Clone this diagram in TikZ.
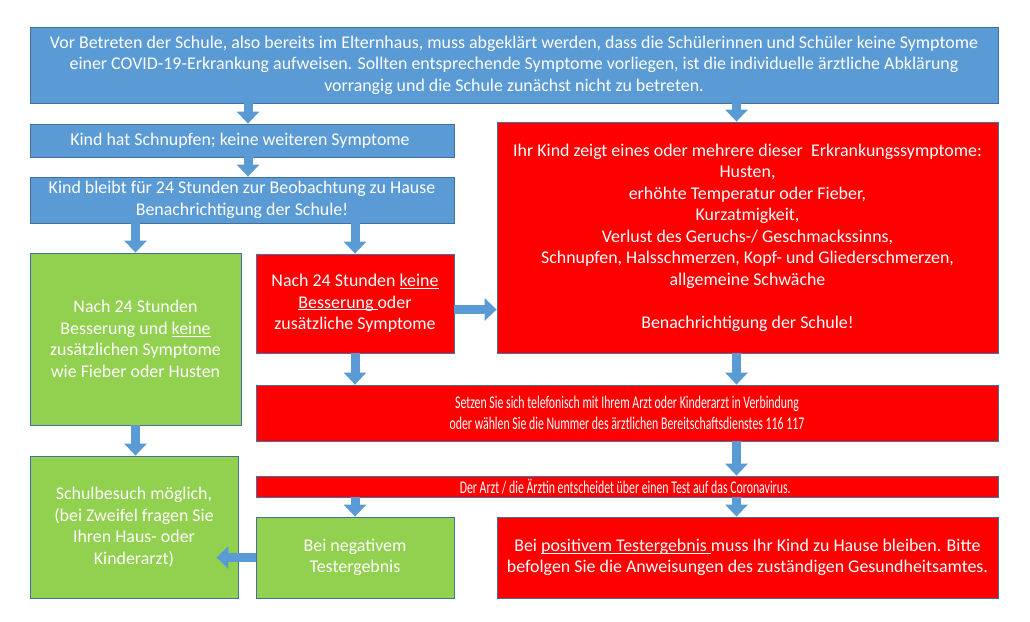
\documentclass[tikz,border=0pt]{standalone}
\usepackage{fontspec}
\setmainfont{Carlito}
\newfontfamily\narrowfont[FakeStretch=0.66]{Carlito}
\usetikzlibrary{arrows.meta, positioning, calc}
\definecolor{cStep}{RGB}{91, 155, 213}
\definecolor{cAlarm}{RGB}{255, 0, 0}
\definecolor{cOkay}{RGB}{146, 208, 80}
\definecolor{bEdge}{RGB}{65, 113, 156}
\definecolor{cArrow}{RGB}{91, 155, 213}
\newcommand{\ulin}[1]{$\underline{\smash{\hbox{#1}}}$}

\begin{document}
\begin{tikzpicture}[
    x=1pt, y=-1pt,
    font=\fontsize{17.9}{21.5}\selectfont,
    box/.style={
        draw=bEdge,
        fill=#1,
        line width=0.8pt,
        text=white,
        align=center,
        inner sep=2pt
    },
    blockarrow/.style={draw=cArrow, line width=9pt, -{Triangle[length=12pt, width=22pt]}}
]
\useasboundingbox (0,0) rectangle (1030,621);

% Top: check at home
\node[box=cStep, minimum width=968pt, minimum height=76pt] (top) at (514, 65) {
    Vor Betreten der Schule, also bereits im Elternhaus, muss abgeklärt werden, dass die Schülerinnen und Schüler keine Symptome\\
    einer COVID-19-Erkrankung aufweisen. Sollten entsprechende Symptome vorliegen, ist die individuelle ärztliche Abklärung\\
    vorrangig und die Schule zunächst nicht zu betreten.
};

% Left branch: only a cold
\node[box=cStep, minimum width=424pt, minimum height=33pt] (schnupfen) at (242, 140.5) {
    Kind hat Schnupfen; keine weiteren Symptome
};
\node[box=cStep, minimum width=424pt, minimum height=46pt] (beob) at (242, 200) {
    Kind bleibt für 24 Stunden zur Beobachtung zu Hause\\
    Benachrichtigung der Schule!
};
\node[box=cOkay, minimum width=211pt, minimum height=172pt] (besser) at (135.5, 339) {
    Nach 24 Stunden\\
    Besserung und \ulin{keine}\\
    zusätzlichen Symptome\\
    wie Fieber oder Husten
};
\node[box=cAlarm, minimum width=198pt, minimum height=99pt] (keine) at (355, 303.5) {
    Nach 24 Stunden \ulin{keine}\\
    \ulin{Besserung }oder\\
    zusätzliche Symptome
};

% Right branch: symptoms
\node[box=cAlarm, minimum width=501pt, minimum height=231pt] (symptome) at (747.5, 237.5) {
    Ihr Kind zeigt eines oder mehrere dieser \ Erkrankungssymptome:\\
    Husten,\\
    erhöhte Temperatur oder Fieber,\\
    Kurzatmigkeit,\\
    Verlust des Geruchs-/ Geschmackssinns,\\
    Schnupfen, Halsschmerzen, Kopf- und Gliederschmerzen,\\
    allgemeine Schwäche\\[21.5pt]
    Benachrichtigung der Schule!
};

% Doctor and test
\node[box=cAlarm, minimum width=742pt, minimum height=56pt, font=\narrowfont\fontsize{17.9}{21.5}\selectfont] (arzt) at (627, 413) {
    Setzen Sie sich telefonisch mit Ihrem Arzt oder Kinderarzt in Verbindung\\
    oder wählen Sie die Nummer des ärztlichen Bereitschaftsdienstes 116 117
};
\node[box=cAlarm, minimum width=742pt, minimum height=21pt, inner sep=0pt, font=\narrowfont\fontsize{17.9}{21.5}\selectfont] (test) at (627, 486.5) {
    Der Arzt / die Ärztin entscheidet über einen Test auf das Coronavirus.
};

% Results
\node[box=cOkay, minimum width=208pt, minimum height=142pt] (schule) at (134, 527) {
    Schulbesuch möglich,\\
    (bei Zweifel fragen Sie\\
    Ihren Haus- oder\\
    Kinderarzt)
};
\node[box=cOkay, minimum width=198pt, minimum height=81pt] (negativ) at (355, 557.5) {
    Bei negativem\\
    Testergebnis
};
\node[box=cAlarm, minimum width=501pt, minimum height=81pt] (positiv) at (747.5, 557.5) {
    Bei \ulin{positivem Testergebnis }muss Ihr Kind zu Hause bleiben. Bitte\\
    befolgen Sie die Anweisungen des zuständigen Gesundheitsamtes.
};

\coordinate (rcol) at ($(symptome.north)+(-11,0)$);
\coordinate (lcol) at ($(schnupfen.north)+(6,0)$);
\coordinate (kr) at ($(keine.east)+(0,6)$);

\draw[blockarrow] (top.south -| lcol) -- (lcol);
\draw[blockarrow] (schnupfen.south -| lcol) -- (beob.north -| lcol);
\draw[blockarrow] (top.south -| rcol) -- (symptome.north -| rcol);
\draw[blockarrow] (beob.south -| besser) -- (besser.north);
\draw[blockarrow] (beob.south -| keine) -- (keine.north);
\draw[blockarrow] (kr) -- (kr -| symptome.west);
\draw[blockarrow] (keine.south) -- (arzt.north -| keine.south);
\draw[blockarrow] (symptome.south -| rcol) -- (arzt.north -| rcol);
\draw[blockarrow] (arzt.south -| rcol) -- (test.north -| rcol);
\draw[blockarrow] (besser.south) -- (schule.north -| besser.south);
\draw[blockarrow] (test.south -| negativ) -- (negativ.north);
\draw[blockarrow] (test.south -| rcol) -- (positiv.north -| rcol);
\draw[blockarrow, shorten >=-22pt] (negativ.west) -- (negativ.west -| schule.east);

\end{tikzpicture}
\end{document}
